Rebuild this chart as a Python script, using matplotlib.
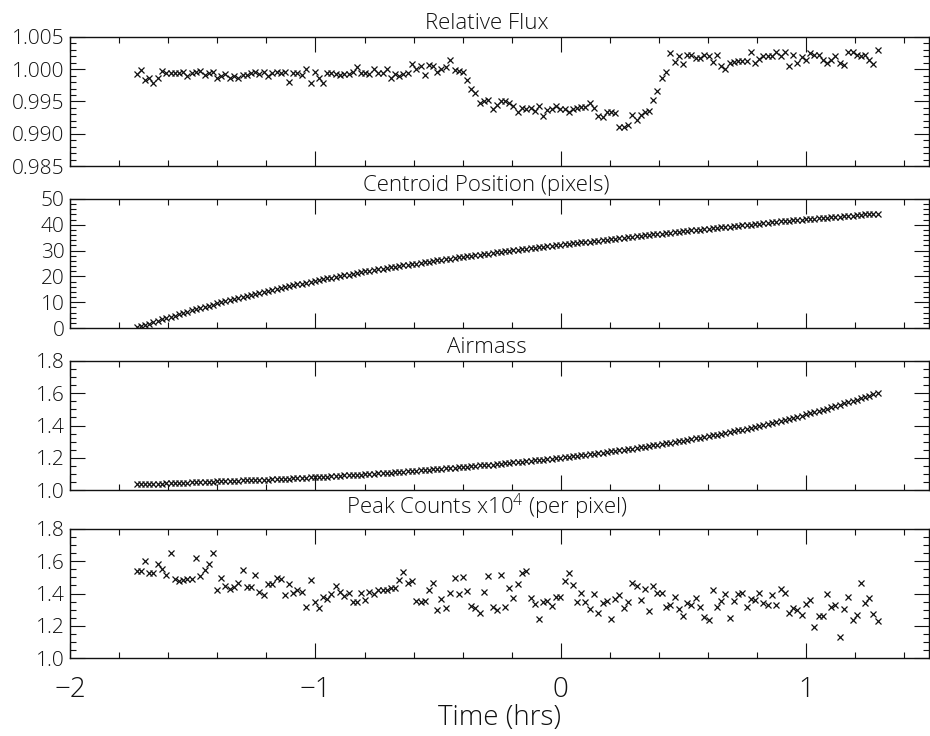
"""Four-panel transit light curve summary: flux, centroid, airmass, peak counts."""

import matplotlib
matplotlib.use("Agg")
import matplotlib.pyplot as plt
import numpy as np
from matplotlib.ticker import MultipleLocator, FormatStrFormatter

# exposure mid-times, minutes from mid-transit
time_min = [
    -103.7, -102.7, -101.6, -100.6, -99.6, -98.5, -97.5, -96.5, -95.4, -94.4,
    -93.3, -92.3, -91.3, -90.2, -89.2, -88.2, -87.1, -86.1, -85.1, -84.0,
    -83.0, -82.0, -80.9, -79.9, -78.9, -77.8, -76.8, -75.7, -74.7, -73.7,
    -72.6, -71.6, -70.6, -69.5, -68.5, -67.5, -66.4, -65.4, -64.4, -63.3,
    -62.3, -61.2, -60.2, -59.2, -58.1, -57.1, -56.1, -55.0, -54.0, -53.0,
    -51.9, -50.9, -49.9, -48.8, -47.8, -46.8, -45.7, -44.7, -43.6, -42.6,
    -41.6, -40.5, -39.5, -38.5, -37.4, -36.4, -35.4, -34.3, -33.3, -32.3,
    -31.2, -30.2, -29.2, -28.1, -27.1, -26.0, -25.0, -24.0, -22.9, -21.9,
    -20.9, -19.8, -18.8, -17.8, -16.7, -15.7, -14.7, -13.6, -12.6, -11.6,
    -10.5, -9.5, -8.4, -7.4, -6.4, -5.3, -4.3, -3.3, -2.2, -1.2,
    -0.2, 0.9, 1.9, 2.9, 4.0, 5.0, 6.0, 7.1, 8.1, 9.1,
    10.2, 11.2, 12.3, 13.3, 14.3, 15.4, 16.4, 17.4, 18.5, 19.5,
    20.5, 21.6, 22.6, 23.6, 24.7, 25.7, 26.8, 27.8, 28.8, 29.9,
    30.9, 31.9, 33.0, 34.0, 35.0, 36.1, 37.1, 38.1, 39.2, 40.2,
    41.3, 42.3, 43.3, 44.4, 45.4, 46.4, 47.5, 48.5, 49.5, 50.6,
    51.6, 52.6, 53.7, 54.7, 55.7, 56.8, 57.8, 58.9, 59.9, 60.9,
    62.0, 63.0, 64.0, 65.1, 66.1, 67.1, 68.2, 69.2, 70.2, 71.3,
    72.3, 73.3, 74.4, 75.4, 76.4, 77.5,
]

rel_flux = [
    0.9992, 0.9999, 0.9984, 0.9986, 0.9979, 0.9986, 0.9997, 0.9994, 0.9994, 0.9994,
    0.9994, 0.9996, 0.9989, 0.9994, 0.9996, 0.9997, 0.9991, 0.9994, 0.9996, 0.9987,
    0.9989, 0.9992, 0.9987, 0.9990, 0.9987, 0.9991, 0.9991, 0.9994, 0.9996, 0.9992,
    0.9995, 0.9990, 0.9994, 0.9996, 0.9994, 0.9996, 0.9980, 0.9994, 0.9994, 0.9991,
    1.0000, 0.9978, 0.9996, 0.9987, 0.9979, 0.9994, 0.9994, 0.9992, 0.9991, 0.9992,
    0.9992, 0.9996, 1.0003, 0.9994, 0.9994, 0.9993, 1.0001, 0.9994, 0.9994,
    1.0001, 0.9986, 0.9993, 0.9990, 0.9992, 0.9994, 1.0008, 1.0001, 1.0005, 0.9991,
    1.0007, 1.0005, 0.9996, 1.0000, 1.0003, 1.0014, 0.9999, 0.9997, 0.9996, 0.9984,
    0.9969, 0.9963, 0.9948, 0.9951, 0.9953, 0.9939, 0.9945, 0.9951, 0.9951, 0.9947,
    0.9943, 0.9933, 0.9940, 0.9939, 0.9940, 0.9936, 0.9943, 0.9927, 0.9937, 0.9938,
    0.9943, 0.9939, 0.9939, 0.9933, 0.9938, 0.9940, 0.9942, 0.9942, 0.9947, 0.9940,
    0.9927, 0.9926, 0.9933, 0.9933, 0.9932, 0.9910, 0.9911,
    0.9914, 0.9929, 0.9922, 0.9929, 0.9933, 0.9935, 0.9952, 0.9966, 0.9986, 0.9996,
    1.0025, 1.0012, 1.0021, 1.0008, 1.0022, 1.0022, 1.0018, 1.0017, 1.0022, 1.0020,
    1.0012, 1.0022, 1.0005, 1.0001, 1.0009, 1.0011, 1.0013, 1.0013, 1.0013, 1.0026,
    1.0010, 1.0016, 1.0020, 1.0020, 1.0021, 1.0027, 1.0021, 1.0026, 1.0005, 1.0022,
    1.0010, 1.0019, 1.0014, 1.0025, 1.0022, 1.0022, 1.0014, 1.0009, 1.0015, 1.0021,
    1.0010, 1.0007, 1.0027, 1.0026, 1.0022, 1.0021, 1.0022, 1.0014, 1.0008, 1.0030,
]

centroid_px = [
    0.2, 0.7, 1.2, 1.7, 2.2, 2.8, 3.3, 3.8, 4.3, 4.8,
    5.3, 5.8, 6.2, 6.8, 7.2, 7.7, 8.2, 8.6, 9.0, 9.5,
    9.9, 10.4, 10.8, 11.2, 11.6, 12.1, 12.4, 12.9, 13.3, 13.6,
    14.1, 14.4, 14.8, 15.1, 15.5, 15.8, 16.2, 16.5, 16.9, 17.2,
    17.5, 17.9, 18.2, 18.5, 18.8, 19.2, 19.5, 19.8, 20.1, 20.4,
    20.7, 21.0, 21.3, 21.6, 21.9, 22.1, 22.4, 22.7, 23.0, 23.2,
    23.5, 23.8, 24.0, 24.3, 24.5, 24.8, 25.0, 25.3, 25.5, 25.7,
    26.0, 26.2, 26.4, 26.7, 26.9, 27.2, 27.4, 27.6, 27.8, 28.0,
    28.2, 28.4, 28.6, 28.8, 29.1, 29.3, 29.5, 29.7, 29.9, 30.1,
    30.3, 30.5, 30.7, 30.9, 31.1, 31.3, 31.5, 31.7, 31.9, 32.1,
    32.3, 32.5, 32.6, 32.8, 33.0, 33.2, 33.4, 33.5, 33.7, 33.9,
    34.1, 34.3, 34.5, 34.6, 34.8, 35.0, 35.2, 35.3, 35.5, 35.7,
    35.9, 36.1, 36.3, 36.4, 36.6, 36.8, 37.0, 37.1, 37.3, 37.5,
    37.6, 37.8, 38.0, 38.1, 38.3, 38.5, 38.6, 38.8, 39.0, 39.1,
    39.3, 39.5, 39.6, 39.8, 40.0, 40.1, 40.3, 40.5, 40.6, 40.8,
    40.9, 41.1, 41.3, 41.4, 41.6, 41.7, 41.8, 42.0, 42.1, 42.3,
    42.4, 42.6, 42.7, 42.8, 43.0, 43.1, 43.2, 43.4, 43.5, 43.6,
    43.7, 43.8, 44.0, 44.1, 44.2, 44.3,
]

airmass = [
    1.035, 1.036, 1.037, 1.038, 1.038, 1.039, 1.040, 1.041, 1.043, 1.043,
    1.044, 1.045, 1.046, 1.047, 1.048, 1.049, 1.050, 1.051, 1.052, 1.053,
    1.054, 1.055, 1.056, 1.057, 1.058, 1.059, 1.060, 1.061, 1.062, 1.063,
    1.064, 1.065, 1.067, 1.068, 1.069, 1.070, 1.071, 1.072, 1.074, 1.075,
    1.076, 1.078, 1.079, 1.080, 1.082, 1.083, 1.085, 1.087, 1.088, 1.090,
    1.091, 1.092, 1.094, 1.096, 1.097, 1.099, 1.101, 1.103, 1.105, 1.106,
    1.108, 1.110, 1.112, 1.114, 1.116, 1.117, 1.119, 1.121, 1.123, 1.125,
    1.128, 1.130, 1.132, 1.134, 1.136, 1.138, 1.140, 1.142, 1.145, 1.147,
    1.149, 1.152, 1.154, 1.156, 1.158, 1.161, 1.163, 1.166, 1.168, 1.171,
    1.173, 1.175, 1.178, 1.181, 1.183, 1.186, 1.189, 1.191, 1.194, 1.197,
    1.199, 1.203, 1.206, 1.209, 1.213, 1.216, 1.219, 1.222, 1.225, 1.229,
    1.232, 1.236, 1.240, 1.243, 1.246, 1.250, 1.254, 1.257, 1.261, 1.265,
    1.269, 1.273, 1.277, 1.281, 1.285, 1.289, 1.294, 1.298, 1.302, 1.306,
    1.310, 1.315, 1.320, 1.324, 1.329, 1.334, 1.338, 1.343, 1.348, 1.353,
    1.359, 1.364, 1.369, 1.375, 1.380, 1.385, 1.390, 1.396, 1.402, 1.409,
    1.415, 1.421, 1.428, 1.434, 1.440, 1.448, 1.454, 1.462, 1.469, 1.476,
    1.484, 1.490, 1.497, 1.505, 1.513, 1.520, 1.529, 1.537, 1.544, 1.553,
    1.561, 1.569, 1.578, 1.586, 1.595, 1.604,
]

# peak counts in units of 1e4 per pixel
peak_counts = [
    1.542, 1.542, 1.602, 1.525, 1.525, 1.581, 1.550, 1.515, 1.649, 1.488,
    1.480, 1.484, 1.488, 1.488, 1.618, 1.509, 1.546, 1.581, 1.649, 1.422,
    1.494, 1.449, 1.430, 1.442, 1.463, 1.546, 1.442, 1.442, 1.515, 1.407,
    1.391, 1.457, 1.457, 1.494, 1.488, 1.391, 1.459, 1.405, 1.422, 1.407,
    1.318, 1.484, 1.349, 1.308, 1.376, 1.364, 1.395, 1.449, 1.407, 1.385,
    1.401, 1.349, 1.349, 1.405, 1.360, 1.411, 1.395, 1.422,
    1.422, 1.422, 1.436, 1.436, 1.484, 1.531, 1.463, 1.478, 1.356, 1.349,
    1.356, 1.422, 1.463, 1.298, 1.366, 1.308, 1.401, 1.498, 1.395, 1.500,
    1.416, 1.325, 1.312, 1.277, 1.407, 1.509, 1.314, 1.298, 1.515, 1.314,
    1.432, 1.370, 1.457, 1.525, 1.542, 1.370, 1.335, 1.242, 1.345, 1.354,
    1.323, 1.380, 1.376, 1.478, 1.525, 1.453, 1.345, 1.405, 1.345, 1.304,
    1.397, 1.277, 1.339, 1.356, 1.242, 1.366, 1.391, 1.308,
    1.349, 1.467, 1.447, 1.360, 1.426, 1.294, 1.449, 1.405, 1.405, 1.318,
    1.327, 1.380, 1.302, 1.261, 1.339, 1.327, 1.370, 1.318, 1.252, 1.236,
    1.422, 1.318, 1.356, 1.397, 1.246, 1.356, 1.397, 1.405, 1.316, 1.364,
    1.360, 1.405, 1.343, 1.327, 1.391, 1.327, 1.428, 1.401, 1.281, 1.308,
    1.298, 1.267, 1.335, 1.360, 1.190, 1.261, 1.261, 1.397, 1.314, 1.327,
    1.132, 1.302, 1.376, 1.236, 1.265, 1.463, 1.343, 1.370, 1.273, 1.232,
]

FONT = ["Open Sans", "DejaVu Sans"]
plt.rcParams["font.family"] = FONT
plt.rcParams["font.weight"] = "light"
plt.rcParams["axes.titleweight"] = "light"
plt.rcParams["axes.labelweight"] = "light"
plt.rcParams["mathtext.fontset"] = "custom"
plt.rcParams["mathtext.rm"] = "Open Sans:light"
plt.rcParams["mathtext.it"] = "Open Sans:light"
plt.rcParams["axes.unicode_minus"] = True

W, H = 930, 736
LEFT, RIGHT = 70, 929
# (top, bottom) of each panel in pixels
PANELS = [(37, 166), (199, 328), (361, 490), (529, 658)]
INK = "#111111"


def _style_axis(ax, ylim, ymajor, yminor, yfmt, show_x):
    ax.set_xlim(-2, 1.5)
    ax.set_ylim(*ylim)
    ax.xaxis.set_major_locator(MultipleLocator(1))
    ax.xaxis.set_minor_locator(MultipleLocator(0.2))
    ax.yaxis.set_major_locator(MultipleLocator(ymajor))
    ax.yaxis.set_minor_locator(MultipleLocator(yminor))
    ax.yaxis.set_major_formatter(FormatStrFormatter(yfmt))
    ax.tick_params(which="both", direction="in", top=True, right=True,
                   color=INK, width=0.8)
    ax.tick_params(which="major", length=10.5)
    ax.tick_params(which="minor", length=4.5)
    ax.tick_params(axis="y", labelsize=15, pad=4, labelcolor=INK)
    if show_x:
        ax.tick_params(axis="x", labelsize=20, pad=13, labelcolor=INK)
    else:
        ax.tick_params(axis="x", labelbottom=False)
    for sp in ax.spines.values():
        sp.set_linewidth(1.0)
        sp.set_color(INK)


def main():
    t_hrs = np.array(time_min) / 60.0
    fig = plt.figure(figsize=(W / 100, H / 100), dpi=100)

    specs = [
        (rel_flux, "Relative Flux", (0.985, 1.005), 0.005, 0.001, "%.3f", 6),
        (centroid_px, "Centroid Position (pixels)", (0, 50), 10, 2, "%d", 6),
        (airmass, "Airmass", (1.0, 1.8), 0.2, 0.05, "%.1f", 6),
        (peak_counts, "Peak Counts x10$^4$ (per pixel)", (1.0, 1.8), 0.2, 0.05, "%.1f", 11),
    ]

    for i, ((top, bot), (vals, title, ylim, ymaj, ymin, yfmt, tpad)) in enumerate(zip(PANELS, specs)):
        ax = fig.add_axes([LEFT / W, 1 - bot / H, (RIGHT - LEFT) / W, (bot - top) / H])
        ax.plot(t_hrs, vals, linestyle="none", marker="x", ms=4.6, mew=0.9, color=INK)
        _style_axis(ax, ylim, ymaj, ymin, yfmt, show_x=(i == len(PANELS) - 1))
        ax.set_title(title, fontsize=16, pad=tpad, color=INK, x=0.485)
        if i == len(PANELS) - 1:
            ax.set_xlabel("Time (hrs)", fontsize=20, labelpad=0, color=INK)

    fig.savefig("out.png", dpi=100)
    plt.close(fig)


if __name__ == "__main__":
    main()
